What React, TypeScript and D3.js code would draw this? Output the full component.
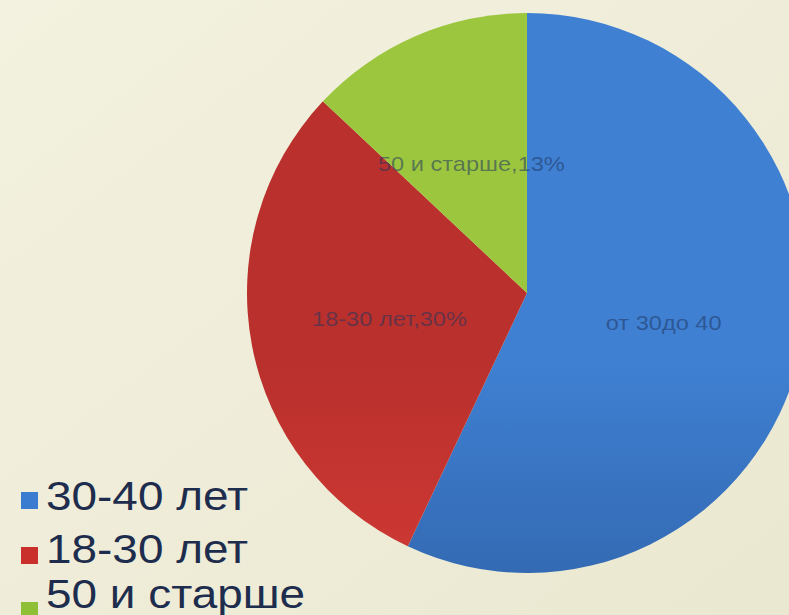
import React from "react";
import * as d3 from "d3";

const categories = ["30-40 лет", "18-30 лет", "50 и старше"];
const values = [57, 30, 13];
const sliceLabels = ["от 30до 40", "18-30 лет,30%", "50 и старше,13%"];
const topColors = ["#3f80d2", "#b9302c", "#9cc63e"];
const bottomColors = ["#2e5fa4", "#da3d37", "#98c23a"];
const legendColors = ["#3b7bd0", "#c9302c", "#8fbf34"];

const W = 789;
const H = 615;
const cx = 527;
const cy = 293;
const R = 280;

export default function App() {
  const pie = d3
    .pie<number>()
    .sort(null)
    .value((d) => d)
    .startAngle(0)
    .endAngle(2 * Math.PI);
  const arcs = pie(values);
  const arc = d3.arc<d3.PieArcDatum<number>>().innerRadius(0).outerRadius(R);

  const legendBaselines = [510, 563, 608];
  const legendSquares = [492, 547, 602];

  return (
    <svg
      width={W}
      height={H}
      style={{ position: "absolute", left: 0, top: 0 }}
      fontFamily="'Liberation Sans', Arial, sans-serif"
    >
      <defs>
        <linearGradient id="bg" x1="0" y1="0" x2="1" y2="1">
          <stop offset="0" stopColor="#f3f2e0" />
          <stop offset="1" stopColor="#ebe8d1" />
        </linearGradient>
        {arcs.map((a, i) => (
          <linearGradient
            key={i}
            id={`sg${i}`}
            gradientUnits="userSpaceOnUse"
            x1={0}
            y1={cy - R}
            x2={0}
            y2={cy + R}
          >
            <stop offset="0.1" stopColor={topColors[i]} />
            <stop offset="0.5" stopColor={d3.interpolateRgb(topColors[i], bottomColors[i])(0.7)} />
            <stop offset="1" stopColor={bottomColors[i]} />
          </linearGradient>
        ))}
      </defs>
      <rect x={0} y={0} width={W} height={H} fill="url(#bg)" />
      <g transform={`translate(${cx},${cy})`}>
        {arcs.map((a, i) => (
          <path key={i} d={arc(a) || ""} fill={`url(#sg${i})`} stroke="none" />
        ))}
        {arcs.map((a, i) => {
          const [x, y] = arc.centroid(a);
          return (
            <text
              key={`l${i}`}
              transform={`translate(${x},${y}) scale(1.18,1)`}
              textAnchor="middle"
              dominantBaseline="central"
              fontSize={20}
              fill="#1e3560"
              fillOpacity={0.55}
            >
              {sliceLabels[i]}
            </text>
          );
        })}
      </g>
      {categories.map((c, i) => (
        <g key={c}>
          <rect x={21} y={legendSquares[i]} width={17} height={17} fill={legendColors[i]} />
          <text
            transform={`translate(46,${legendBaselines[i]}) scale(1.12,1)`}
            fontSize={41}
            fill="#1e2d4d"
          >
            {c}
          </text>
        </g>
      ))}
    </svg>
  );
}
